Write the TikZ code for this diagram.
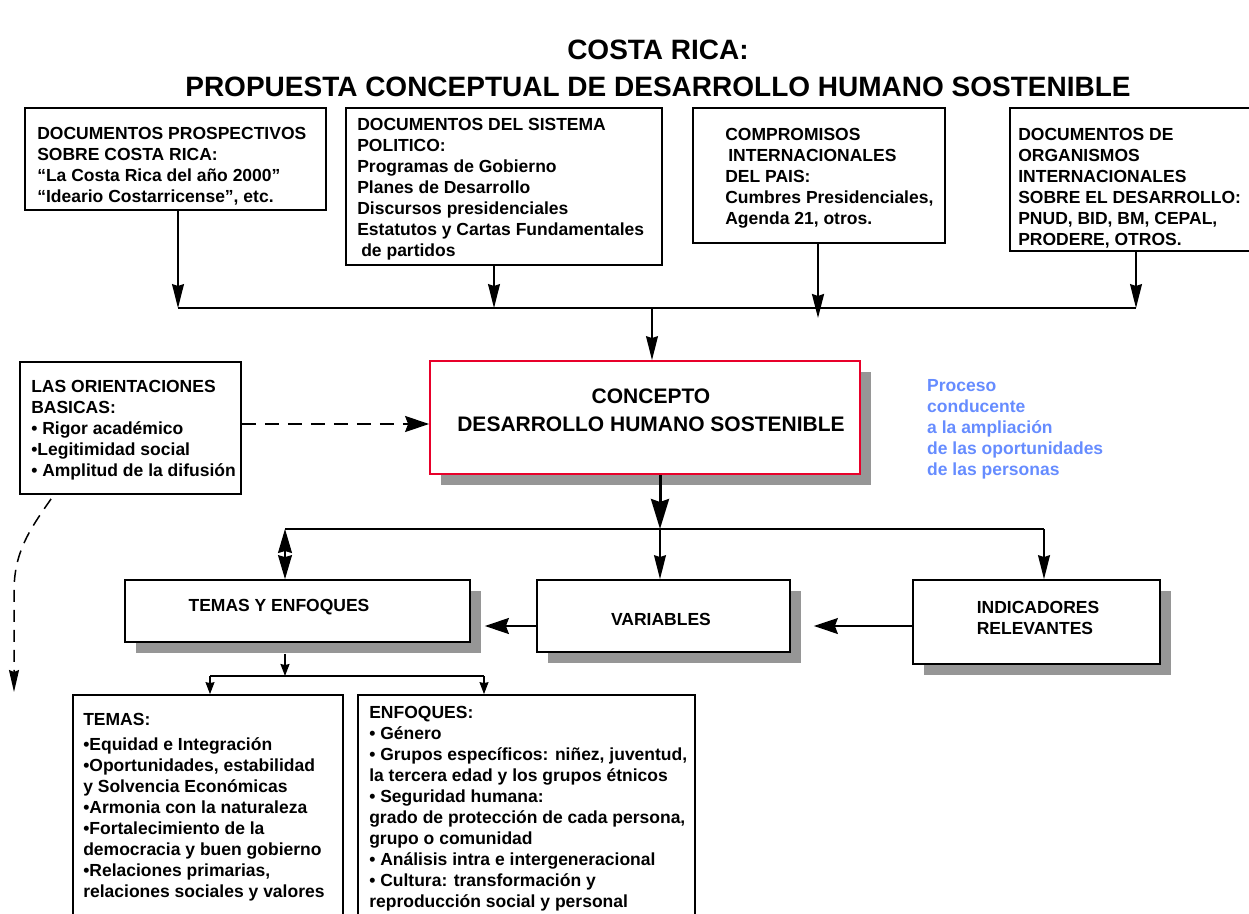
\documentclass[tikz,border=0pt]{standalone}
\usepackage{fontspec}
\setmainfont{Liberation Sans}
\usetikzlibrary{arrows.meta,positioning,shadows}
\definecolor{conceptred}{RGB}{232,0,42}
\definecolor{procblue}{RGB}{102,140,255}
\definecolor{shadowgray}{RGB}{150,150,150}

\begin{document}
\begin{tikzpicture}[x=1pt,y=-1pt,
  doc node/.style={draw,line width=1.8pt,fill=white,rectangle,inner sep=0pt},
  shadow node/.style={doc node,drop shadow={shadow xshift=11pt,shadow yshift=-11pt,fill=shadowgray,opacity=1}},
  doc text/.style={inner sep=0pt,align=left,font=\fontsize{17.5}{21}\selectfont\bfseries},
  big arrow/.style={-{Stealth[length=24pt,width=12pt,inset=2pt]}},
  side arrow/.style={-{Stealth[length=24pt,width=16pt,inset=3pt]}},
  small arrow/.style={-{Stealth[length=12pt,width=9pt,inset=1pt]}}]

  \useasboundingbox (0,0) rectangle (1249,913);
  \clip (0,0) rectangle (1249,913);

  \node[font=\fontsize{28}{37}\selectfont\bfseries,align=center] (title) at (658,68.5)
    {COSTA RICA:\\PROPUESTA CONCEPTUAL DE DESARROLLO HUMANO SOSTENIBLE};

  \node[doc node,minimum width=301pt,minimum height=102pt] (prosp) at (175.5,159) {};
  \node[doc text,right=13pt of prosp.west,yshift=-7pt] (prosp txt)
    {DOCUMENTOS PROSPECTIVOS\\SOBRE COSTA RICA:\\“La Costa Rica del año 2000”\\“Ideario Costarricense”, etc.};

  \node[doc node,minimum width=316pt,minimum height=157pt] (polit) at (504,186.5) {};
  \node[doc text,right=12pt of polit.west,yshift=-3pt] (polit txt)
    {DOCUMENTOS DEL SISTEMA\\POLITICO:\\Programas de Gobierno\\Planes de Desarrollo\\Discursos presidenciales\\Estatutos y Cartas Fundamentales\\\hspace{4pt}de partidos};

  \node[doc node,minimum width=252pt,minimum height=135pt] (comp) at (819,175.5) {};
  \node[doc text,right=33pt of comp.west,yshift=-3pt] (comp txt)
    {COMPROMISOS\\\hspace{3pt}INTERNACIONALES\\DEL PAIS:\\Cumbres Presidenciales,\\Agenda 21, otros.};

  \node[doc node,minimum width=242pt,minimum height=143pt] (org) at (1131,179.5) {};
  \node[doc text,right=9pt of org.west,yshift=-8.5pt] (org txt)
    {DOCUMENTOS DE\\ORGANISMOS\\INTERNACIONALES\\SOBRE EL DESARROLLO:\\PNUD, BID, BM, CEPAL,\\PRODERE, OTROS.};

  \node[doc node,minimum width=221pt,minimum height=132pt] (orient) at (130.5,428) {};
  \node[doc text,right=12pt of orient.west,yshift=-2.5pt] (orient txt)
    {LAS ORIENTACIONES\\BASICAS:\\• Rigor académico\\•Legitimidad social\\• Amplitud de la difusión};

  \node[shadow node,draw=conceptred,minimum width=430pt,minimum height=113pt] (concept) at (645,417.5) {};
  \node[inner sep=0pt,align=center,font=\fontsize{21}{28}\selectfont\bfseries] (concept txt) at (651,410)
    {CONCEPTO\\DESARROLLO HUMANO SOSTENIBLE};

  \node[doc text,text=procblue,anchor=west] (proc) at (927,429)
    {Proceso\\conducente\\a la ampliación\\de las oportunidades\\de las personas};

  \node[shadow node,minimum width=345pt,minimum height=62pt] (temas) at (297.5,611) {};
  \node[doc text] (temas txt) at (279,607) {TEMAS Y ENFOQUES};

  \node[shadow node,minimum width=253pt,minimum height=72pt] (vars) at (663.5,616) {};
  \node[doc text] (vars txt) at (661,619) {VARIABLES};

  \node[shadow node,minimum width=247pt,minimum height=84pt] (ind) at (1036.5,622) {};
  \node[doc text] (ind txt) at (1038,618) {INDICADORES\\RELEVANTES};

  \node[doc node,minimum width=270pt,minimum height=240pt] (temaslist) at (208,815) {};
  \node[doc text,below right=19pt and 11pt of temaslist.north west] (temaslist txt)
    {TEMAS:\\[4pt]•Equidad e Integración\\•Oportunidades, estabilidad\\y Solvencia Económicas\\•Armonia con la naturaleza\\•Fortalecimiento de la\\democracia y buen gobierno\\•Relaciones primarias,\\relaciones sociales y valores};

  \node[doc node,minimum width=337pt,minimum height=240pt] (enflist) at (526.5,815) {};
  \node[doc text,below right=12pt and 12pt of enflist.north west] (enflist txt)
    {ENFOQUES:\\• Género\\• Grupos específicos: niñez, juventud,\\la tercera edad y los grupos étnicos\\• Seguridad humana:\\grado de protección de cada persona,\\grupo o comunidad\\• Análisis intra e intergeneracional\\• Cultura: transformación y\\reproducción social y personal};

  \coordinate (bus w) at (178,308);
  \coordinate (bus p) at (494,308);
  \coordinate (bus c) at (652,308);
  \coordinate (bus k) at (818,308);
  \coordinate (bus e) at (1136,308);
  \coordinate (split w) at (285,529);
  \coordinate (split) at (660,529);
  \coordinate (split e) at (1044,529);
  \coordinate (side) at (700,626);
  \coordinate (sub w) at (210,676);
  \coordinate (sub) at (285,676);
  \coordinate (sub e) at (484,676);
  \coordinate (dash) at (300,424);
  \coordinate (down) at (14,692);

  \draw[big arrow,line width=1.2pt] (prosp.south -| bus w) -- (bus w);
  \draw[big arrow,line width=1.2pt] (polit.south -| bus p) -- (bus p);
  \draw[big arrow,line width=2.2pt] (comp.south -| bus k) -- ([yshift=-10pt]bus k);
  \draw[big arrow,line width=1.2pt] (org.south -| bus e) -- (bus e);
  \draw[line width=2.2pt] (bus w) -- (bus e);
  \draw[big arrow,line width=1.2pt] (bus c) -- (concept.north -| bus c);

  \draw[line width=2pt,dash pattern=on 14pt off 9pt,side arrow] (orient.east |- dash) -- (concept.west |- dash);
  \draw[line width=1.5pt,dash pattern=on 12pt off 8pt,-{Stealth[length=22pt,width=10pt,inset=2pt]}]
    ([shift={(32pt,-4pt)}]orient.south west) to[out=235,in=90] ([yshift=100pt]down) -- (down);

  \draw[line width=3pt,-{Stealth[length=30pt,width=18pt,inset=3pt]}] (concept.south -| split) -- (split);
  \draw[line width=1.3pt] (split w) -- (split e);
  \draw[big arrow,line width=1.3pt] (split) -- (vars.north -| split);
  \draw[big arrow,line width=1.3pt] (split e) -- (ind.north -| split e);
  \draw[line width=1.3pt,{Stealth[length=24pt,width=14pt,inset=2pt]}-{Stealth[length=24pt,width=14pt,inset=2pt]}]
    (split w) -- (temas.north -| split w);

  \draw[line width=2.2pt,side arrow,shorten >=14pt] (vars.west |- side) -- (temas.east |- side);
  \draw[line width=1.3pt,side arrow,shorten >=23pt] (ind.west |- side) -- (vars.east |- side);

  \draw[small arrow,line width=1.5pt,shorten <=11pt] (temas.south -| sub) -- (sub);
  \draw[line width=2pt] (sub w) -- (sub e);
  \draw[small arrow,line width=1.2pt] (sub w) -- (temaslist.north -| sub w);
  \draw[small arrow,line width=1.2pt] (sub e) -- (enflist.north -| sub e);
\end{tikzpicture}
\end{document}
